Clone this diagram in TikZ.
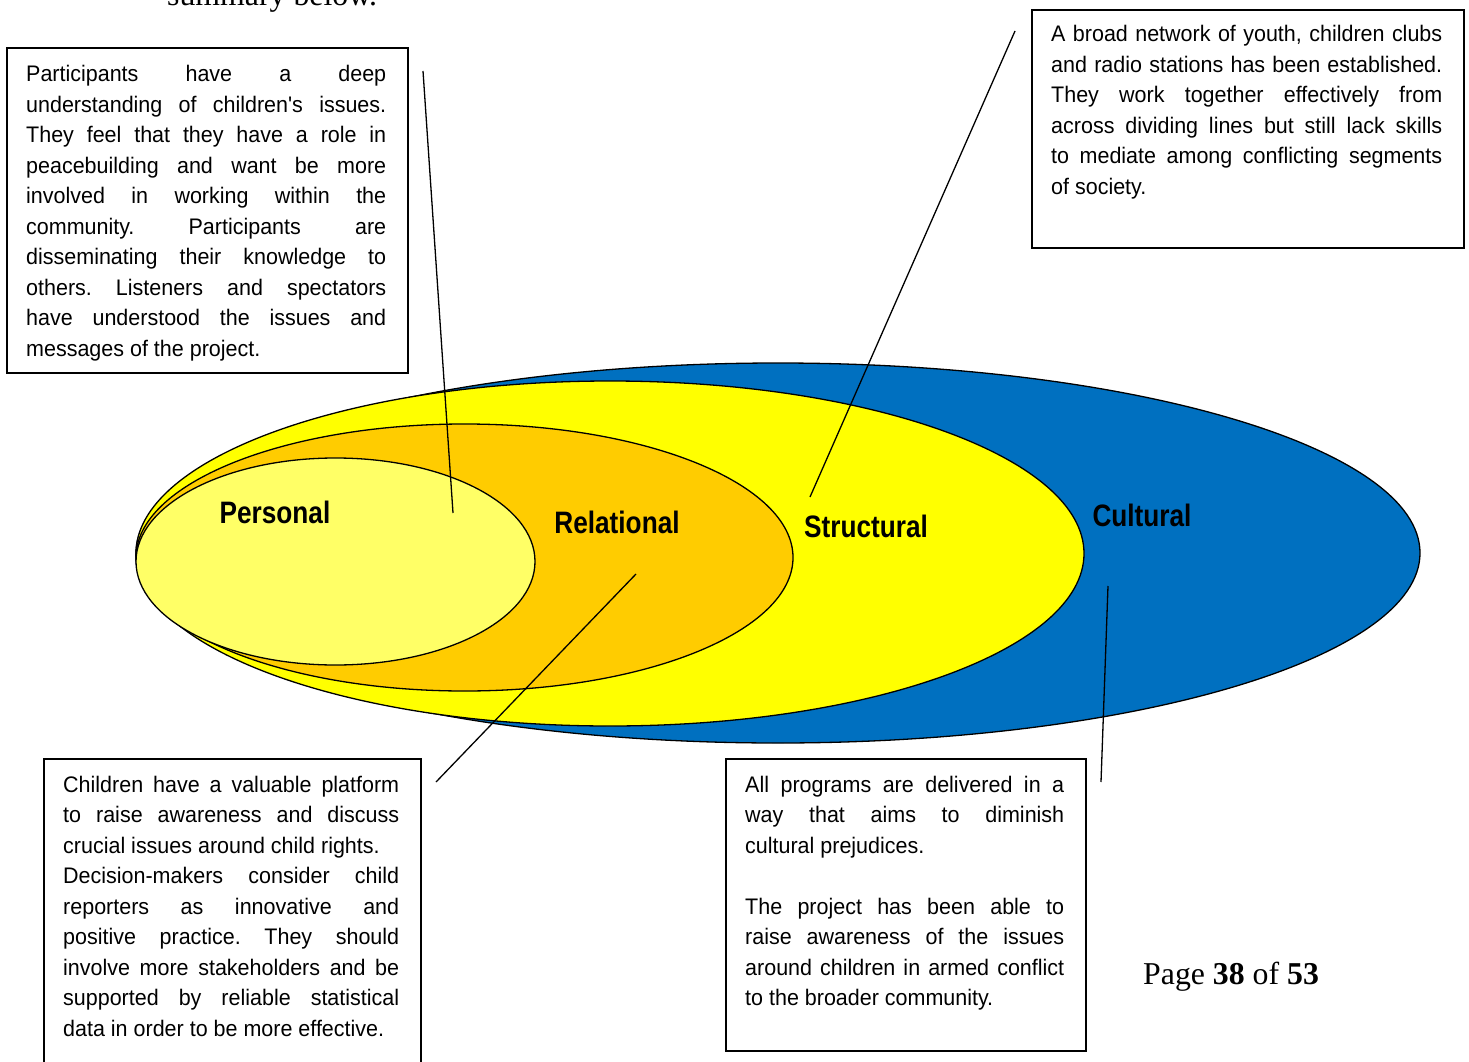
\documentclass[tikz,border=0pt]{standalone}
\usepackage{fontspec}
\setmainfont{Liberation Sans}
\newfontfamily\narrowfont{Liberation Sans}[FakeStretch=0.955]
\newfontfamily\labelfont{Liberation Sans}[FakeStretch=0.845]
\newfontfamily\timesfont{Liberation Serif}
\definecolor{cultblue}{HTML}{0070C0}
\definecolor{structyellow}{HTML}{FFFF00}
\definecolor{relorange}{HTML}{FFCC00}
\definecolor{perslight}{HTML}{FFFF66}
\frenchspacing
\begin{document}
\begin{tikzpicture}[x=1pt,y=-1pt,
  ring/.style={draw=black, line width=1.3pt},
  lab/.style={font=\labelfont\bfseries\fontsize{31}{36}\selectfont, inner sep=0pt, anchor=base},
  boxframe/.style={draw=black, line width=1.6pt, inner sep=0pt, anchor=north west},
  boxtext/.style={font=\narrowfont\fontsize{22.5}{30.5}\selectfont\frenchspacing, inner sep=0pt, anchor=base west, align=justify},
  leader/.style={draw=black, line width=1.3pt}]
\useasboundingbox (0,0) rectangle (1469,1062);
\fill[white] (0,0) rectangle (1469,1062);

% ellipses
\path[ring, fill=cultblue] (778,553) ellipse [x radius=642pt, y radius=190pt];
\path[ring, fill=structyellow] (610,553.5) ellipse [x radius=474pt, y radius=172.5pt];
\path[ring, fill=relorange] (464.5,557.5) ellipse [x radius=328.5pt, y radius=133.5pt];
\path[ring, fill=perslight] (335.5,561.5) ellipse [x radius=199.5pt, y radius=103.5pt];

% labels
\node[lab] (personal) at (275,523) {Personal};
\node[lab] (relational) at (617,533) {Relational};
\node[lab] (structural) at (866,537) {Structural};
\node[lab] (cultural) at (1142,526) {Cultural};

% boxes
\node[boxframe, minimum width=401pt, minimum height=325pt] (box1) at (6,47) {};
\node[boxframe, minimum width=432pt, minimum height=238pt] (box2) at (1031,9) {};
\node[boxframe, minimum width=377pt, minimum height=320pt] (box3) at (43,758) {};
\node[boxframe, minimum width=360pt, minimum height=292pt] (box4) at (725,758) {};

\node[boxtext, text width=360pt] (t1) at (26,82) {%
Participants have a deep\linebreak
understanding of children's issues.\linebreak
They feel that they have a role in\linebreak
peacebuilding and want be more\linebreak
involved in working within the\linebreak
community. Participants are\linebreak
disseminating their knowledge to\linebreak
others. Listeners and spectators\linebreak
have understood the issues and\linebreak
messages of the project.};

\node[boxtext, text width=391pt] (t2) at (1051,42) {%
A broad network of youth, children clubs\linebreak
and radio stations has been established.\linebreak
They work together effectively from\linebreak
across dividing lines but still lack skills\linebreak
to mediate among conflicting segments\linebreak
of society.};

\node[boxtext, text width=336pt] (t3) at (63,792) {%
Children have a valuable platform\linebreak
to raise awareness and discuss\linebreak
crucial issues around child rights.\newline
Decision-makers consider child\linebreak
reporters as innovative and\linebreak
positive practice. They should\linebreak
involve more stakeholders and be\linebreak
supported by reliable statistical\linebreak
data in order to be more effective.};

\node[boxtext, text width=319pt] (t4) at (745,792) {%
All programs are delivered in a\linebreak
way that aims to diminish\linebreak
cultural prejudices.\newline
\mbox{}\newline
The project has been able to\linebreak
raise awareness of the issues\linebreak
around children in armed conflict\linebreak
to the broader community.};

% leader lines
\coordinate (l1a) at (423,71);
\coordinate (l1b) at (453,513);
\coordinate (l2a) at (1015,31);
\coordinate (l2b) at (810,497);
\coordinate (l3a) at (636,574);
\coordinate (l3b) at (436,782);
\coordinate (l4a) at (1108,586);
\coordinate (l4b) at (1101,782);
\draw[leader] (l1a) -- (l1b);
\draw[leader] (l2a) -- (l2b);
\draw[leader] (l3a) -- (l3b);
\draw[leader] (l4a) -- (l4b);

% page texts
\node[font=\timesfont\fontsize{31.8}{36}\selectfont, inner sep=0pt, anchor=base west] (summary) at (167,6) {summary below.};
\node[font=\timesfont\fontsize{31.8}{36}\selectfont, inner sep=0pt, anchor=base west] (page) at (1143,984) {Page \textbf{38} of \textbf{53}};
\end{tikzpicture}
\end{document}
